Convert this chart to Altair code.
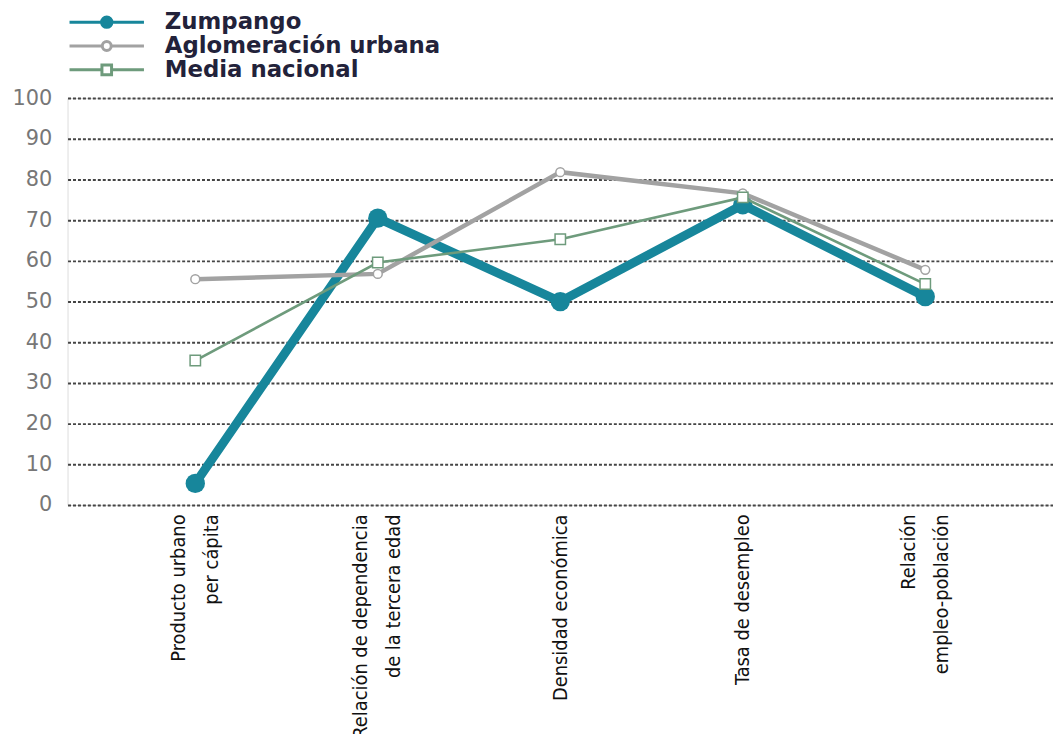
import altair as alt
import pandas as pd

categories = [
    "Producto urbano\nper cápita",
    "Relación de dependencia\nde la tercera edad",
    "Densidad económica",
    "Tasa de desempleo",
    "Relación\nempleo-población",
]
series_names = ["Zumpango", "Aglomeración urbana", "Media nacional"]
zumpango = [5.3, 70.5, 50, 73.8, 51.2]
aglomeracion = [55.5, 56.8, 81.8, 76.6, 57.8]
media = [35.5, 59.6, 65.3, 75.6, 54.3]
y_ticks = [0, 10, 20, 30, 40, 50, 60, 70, 80, 90, 100]

colors = ["#17869b", "#a2a2a2", "#6e9b7c"]
legend_fills = ["#17869b", "#ffffff", "#ffffff"]
legend_paths = [
    "M-4.33,0H-0.6M0.6,0H4.33M-0.6,0A0.6,0.6,0,1,1,0.6,0A0.6,0.6,0,1,1,-0.6,0Z",
    "M-4.33,0H-0.52M0.52,0H4.33M-0.52,0A0.52,0.52,0,1,1,0.52,0A0.52,0.52,0,1,1,-0.52,0Z",
    "M-4.33,0H-0.56M0.56,0H4.33M-0.56,-0.56H0.56V0.56H-0.56Z",
]

rows = []
for name, vals in zip(series_names, [zumpango, aglomeracion, media]):
    for c, v in zip(categories, vals):
        rows.append({"categoria": c, "serie": name, "valor": v})
df = pd.DataFrame(rows)

base = alt.Chart(df).encode(
    x=alt.X(
        "categoria:N",
        sort=categories,
        scale=alt.Scale(type="point", padding=0.7),
        axis=alt.Axis(
            title=None,
            labelAngle=-90,
            labelExpr="split(datum.label, '\\n')",
            labelFont="DejaVu Sans Condensed, sans-serif",
            labelFontSize=20,
            labelLineHeight=33,
            labelColor="#111111",
            labelPadding=9,
            labelLimit=0,
            labelOffset={"condition": {"test": "indexof(datum.value, '\\n') >= 0", "value": -17}, "value": 0},
            ticks=False,
            domain=False,
            grid=False,
        ),
    ),
    y=alt.Y(
        "valor:Q",
        scale=alt.Scale(domain=[0, 100], nice=False),
        axis=alt.Axis(
            title=None,
            values=y_ticks,
            labelFont="DejaVu Sans",
            labelFontSize=21,
            labelColor="#777777",
            labelPadding=16,
            ticks=False,
            domain=False,
            grid=True,
            gridDash=[3, 2],
            gridColor="#444444",
            gridWidth=2,
            minExtent=60,
        ),
    ),
)

widths = [9, 4.5, 2.6]
lines = [
    base.transform_filter(alt.datum.serie == s).mark_line(color=colors[i], strokeWidth=widths[i])
    for i, s in enumerate(series_names)
]

p0 = base.transform_filter(alt.datum.serie == series_names[0]).mark_circle(
    size=380, color=colors[0], opacity=1
)
p1 = base.transform_filter(alt.datum.serie == series_names[1]).mark_point(
    shape="circle", filled=True, fill="#ffffff", stroke=colors[1], strokeWidth=1.5, size=80, opacity=1
)
p2 = base.transform_filter(alt.datum.serie == series_names[2]).mark_point(
    shape="square", filled=True, fill="#ffffff", stroke=colors[2], strokeWidth=1.5, size=110, opacity=1
)

leg = alt.Legend(
    title=None,
    orient="none",
    legendX=28,
    legendY=-88,
    symbolSize=300,
    symbolStrokeWidth=3,
    symbolOpacity=1,
    labelFont="DejaVu Sans",
    labelFontSize=23,
    labelFontWeight="bold",
    labelColor="#22223a",
    labelOffset=47,
    labelLimit=0,
    rowPadding=-1,
    padding=0,
)

legend_layer = base.mark_point(opacity=0, filled=True).encode(
    stroke=alt.Stroke("serie:N", scale=alt.Scale(domain=series_names, range=colors), legend=leg),
    fill=alt.Fill("serie:N", scale=alt.Scale(domain=series_names, range=legend_fills), legend=leg),
    shape=alt.Shape("serie:N", scale=alt.Scale(domain=series_names, range=legend_paths), legend=leg),
)

chart = (
    alt.layer(lines[0], p0, lines[1], p1, lines[2], p2, legend_layer)
    .properties(width=993, height=410, padding={"left": 0, "top": 0, "right": 0, "bottom": 0})
    .configure_view(stroke=None)
    .configure(background="white")
)

chart.save("out.html", embed_options={"renderer": "svg", "actions": False})
